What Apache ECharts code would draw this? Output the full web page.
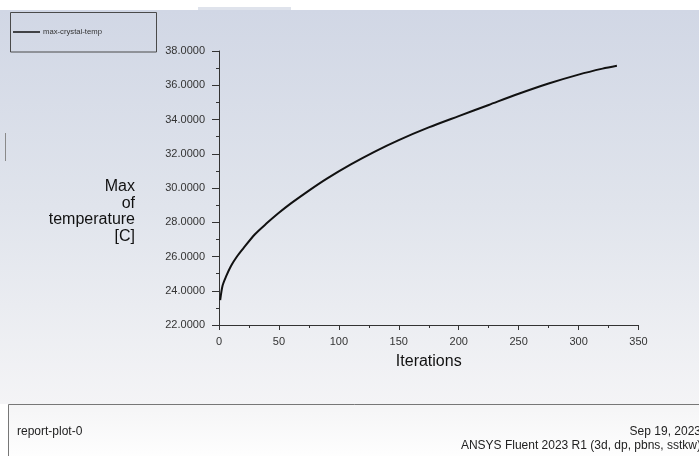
<!DOCTYPE html>
<html>
<head>
<meta charset="utf-8">
<script src="https://cdn.jsdelivr.net/npm/echarts@6/dist/echarts.min.js"></script>
<style>
html,body{margin:0;padding:0;background:#fff;}
#c{width:699px;height:456px;}
</style>
</head>
<body>
<div id="c"></div>
<script>
// Data
const iterations = [1, 3, 6, 10, 15, 20, 30, 40, 50, 60, 75, 90, 110, 130, 150, 175, 200, 225, 250, 275, 300, 320, 332];
const maxCrystalTemp = [23.45, 24.3, 24.85, 25.45, 26.0, 26.45, 27.3, 27.95, 28.55, 29.1, 29.85, 30.55, 31.38, 32.13, 32.8, 33.54, 34.2, 34.85, 35.5, 36.1, 36.62, 36.97, 37.14];
const seriesName = 'max-crystal-temp';
const xTitle = 'Iterations';
const yTitle = 'Max\nof\ntemperature\n[C]';
const footerLeft = 'report-plot-0';
const footerRight1 = 'Sep 19, 2023';
const footerRight2 = 'ANSYS Fluent 2023 R1 (3d, dp, pbns, sstkw)';

const FONT = "'Liberation Sans', Arial, sans-serif";
const chart = echarts.init(document.getElementById('c'), null, {renderer: 'canvas'});

const pts = iterations.map((x, i) => [x, maxCrystalTemp[i]]);

chart.setOption({
  animation: false,
  backgroundColor: '#ffffff',
  grid: {left: 219, right: 60.5, top: 51, bottom: 131, containLabel: false},
  legend: {
    left: 13, top: 28, padding: 0,
    itemWidth: 27, itemHeight: 8, itemGap: 0,
    icon: 'path://M0,3.5L27,3.5L27,5L0,5Z',
    data: [{name: seriesName, itemStyle: {color: '#111'}}],
    textStyle: {fontFamily: FONT, fontSize: 7.7, color: '#333', padding: [0, 0, 0, -2]}
  },
  xAxis: {
    type: 'value', min: 0, max: 350, interval: 50,
    name: xTitle, nameLocation: 'middle', nameGap: 29,
    nameTextStyle: {fontFamily: FONT, fontSize: 16, color: '#111'},
    axisLine: {show: true, lineStyle: {color: '#333', width: 1}},
    axisTick: {show: true, length: 5, lineStyle: {color: '#333'}},
    minorTick: {show: true, splitNumber: 2, length: 3, lineStyle: {color: '#333'}},
    axisLabel: {fontFamily: FONT, fontSize: 11, color: '#333', margin: 11},
    splitLine: {show: false}
  },
  yAxis: {
    type: 'value', min: 22, max: 38, interval: 2,
    axisLine: {show: true, lineStyle: {color: '#333', width: 1}},
    axisTick: {show: true, length: 7, lineStyle: {color: '#333'}},
    minorTick: {show: true, splitNumber: 2, length: 3, lineStyle: {color: '#333'}},
    axisLabel: {fontFamily: FONT, fontSize: 11, color: '#333', margin: 14,
      formatter: v => v.toFixed(4)},
    splitLine: {show: false}
  },
  series: [{
    name: seriesName, type: 'line', data: pts, smooth: 0.3,
    showSymbol: false, symbol: 'none',
    lineStyle: {color: '#111', width: 2},
    itemStyle: {color: '#111'}
  }],
  graphic: [
    {type: 'rect', z: -10, silent: true, shape: {x: 0, y: 10, width: 699, height: 394},
      style: {fill: new echarts.graphic.LinearGradient(0, 0, 0, 1, [
        {offset: 0, color: '#d1d7e5'}, {offset: 0.5, color: '#e0e4ec'}, {offset: 1, color: '#f4f4f6'}])}},
    {type: 'rect', z: -9, silent: true, shape: {x: 198, y: 7, width: 93, height: 3},
      style: {fill: '#dfe3ec'}},
    {type: 'rect', z: 5, silent: true, shape: {x: 10.5, y: 12.5, width: 146, height: 39.5},
      style: {fill: 'none', stroke: '#4a4a4a', lineWidth: 1}},
    {type: 'line', z: 5, silent: true, shape: {x1: 5.5, y1: 133, x2: 5.5, y2: 161},
      style: {stroke: '#8a8a8a', lineWidth: 1}},
    {type: 'rect', z: -5, silent: true, shape: {x: 8.5, y: 404.5, width: 700, height: 60},
      style: {fill: new echarts.graphic.LinearGradient(0, 0, 0, 1, [
        {offset: 0, color: '#f5f5f6'}, {offset: 1, color: '#ffffff'}]),
        stroke: '#777', lineWidth: 1}},
    {type: 'text', z: 6, silent: true,
      style: {text: yTitle, x: 135, y: 211.5, align: 'right', verticalAlign: 'middle',
        font: '16px ' + FONT, lineHeight: 16.5, fill: '#111'}},
    {type: 'text', z: 6, silent: true,
      style: {text: footerLeft, x: 17, y: 432, align: 'left', verticalAlign: 'middle',
        font: '12px ' + FONT, fill: '#222'}},
    {type: 'text', z: 6, silent: true,
      style: {text: footerRight1, x: 701, y: 432, align: 'right', verticalAlign: 'middle',
        font: '12px ' + FONT, fill: '#222'}},
    {type: 'text', z: 6, silent: true,
      style: {text: footerRight2, x: 701, y: 446, align: 'right', verticalAlign: 'middle',
        font: '12px ' + FONT, fill: '#222'}}
  ]
});
</script>
</body>
</html>
